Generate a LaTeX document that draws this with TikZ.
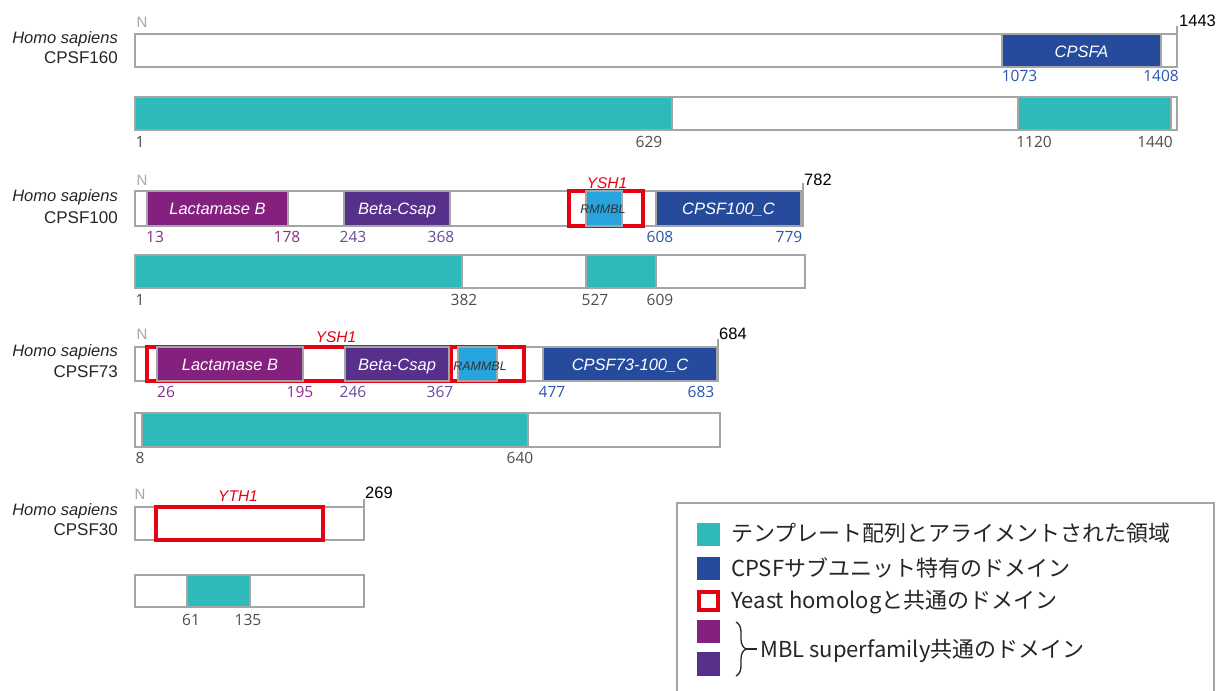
\documentclass[tikz,border=0pt]{standalone}
\usepackage{fontspec}
\setmainfont{Liberation Sans}
\newfontfamily\numfont{Open Sans}
\newfontfamily\jpfont{Noto Sans CJK JP}
\usetikzlibrary{decorations.pathreplacing}
\definecolor{barg}{HTML}{A2A6A6}
\definecolor{cteal}{HTML}{2FBABA}
\definecolor{cblue}{HTML}{264B9D}
\definecolor{cpurp}{HTML}{84217F}
\definecolor{cdpurp}{HTML}{57308B}
\definecolor{clblue}{HTML}{27A4DD}
\definecolor{cred}{HTML}{E50012}
\definecolor{ngray}{HTML}{4D4D4D}
\definecolor{npurp}{HTML}{8B2C8C}
\definecolor{ndpurp}{HTML}{6A4A9E}
\definecolor{nblue}{HTML}{2C54AE}
\definecolor{ngrey}{HTML}{A8A8A8}
\begin{document}
\begin{tikzpicture}[x=1pt,y=-1pt,
  pbar/.style={draw=barg,line width=2.6pt,fill=white},
  tick/.style={draw=barg,line width=2pt},
  seg/.style={draw=barg,line width=2.2pt},
  redbox/.style={draw=cred,line width=4pt},
  species/.style={anchor=base east,inner sep=0pt,font=\fontsize{16.5}{18}\selectfont\itshape,text=black!85},
  prot/.style={anchor=base east,inner sep=0pt,font=\fontsize{17}{18}\selectfont,text=black!85},
  dlab/.style={anchor=base,inner sep=0pt,font=\fontsize{16.5}{18}\selectfont\itshape,text=white},
  slab/.style={anchor=base,inner sep=0pt,font=\fontsize{12.5}{14}\selectfont\itshape,text=black!80},
  num/.style={inner sep=0pt,font=\numfont\fontsize{15.5}{17}\selectfont,text=ngray},
  endnum/.style={anchor=west,inner sep=0pt,font=\fontsize{16.5}{18}\selectfont,text=black},
  nterm/.style={inner sep=0pt,font=\fontsize{15}{16}\selectfont,text=ngrey},
  yl/.style={inner sep=0pt,font=\fontsize{15.5}{17}\selectfont\itshape,text=cred},
  leg/.style={anchor=base west,inner sep=0pt,font=\jpfont\fontsize{22}{24}\selectfont,text=black!85}
]
\useasboundingbox (0,0) rectangle (1216,691);
\fill[white] (0,0) rectangle (1216,691);

% ---------------- CPSF160 ----------------
\node[species] (sp1) at (118,43) {Homo sapiens};
\node[prot] (p1) at (118,63) {CPSF160};
\node[nterm] (n1) at (142,22) {N};
\draw[pbar] (135,34) rectangle (1177,67);
\draw[tick] (1177,34) -- (1177,26);
\node[endnum] (e1) at (1179,21) {1443};
\draw[seg,fill=cblue] (1002,34) rectangle (1161,67);
\node[dlab] (cpsfa) at (1081.5,57) {CPSFA};
\node[num,text=nblue] (a1073) at (1019.5,76) {1073};
\node[num,text=nblue] (a1408) at (1161,76) {1408};
\draw[pbar] (135,97) rectangle (1177,130);
\draw[seg,fill=cteal] (135,97) rectangle (672,130);
\draw[seg,fill=cteal] (1018,97) rectangle (1171,130);
\node[num] (t1a) at (140,142) {1};
\node[num] (t1b) at (649,142) {629};
\node[num] (t1c) at (1034,142) {1120};
\node[num] (t1d) at (1155,142) {1440};

% ---------------- CPSF100 ----------------
\node[species] (sp2) at (118,201) {Homo sapiens};
\node[prot] (p2) at (118,223) {CPSF100};
\node[nterm] (n2) at (142,180) {N};
\draw[pbar] (135,191) rectangle (803,226);
\draw[tick] (803,191) -- (803,183);
\node[endnum] (e2) at (804,180) {782};
\draw[redbox] (569,191) rectangle (643,226);
\draw[seg,fill=cpurp] (147,191) rectangle (288,226);
\node[dlab] (lac2) at (217.5,214.5) {Lactamase B};
\draw[seg,fill=cdpurp] (344,191) rectangle (450,226);
\node[dlab] (bet2) at (397,214.5) {Beta-Csap};
\draw[seg,fill=clblue] (586,191) rectangle (622,226);
\node[slab] (rm2) at (603,213) {RMMBL};
\draw[seg,fill=cblue] (656,191) rectangle (801,226);
\node[dlab] (c100) at (728.5,214.5) {CPSF100\_C};
\node[yl] (ysh2) at (607,183.5) {YSH1};
\node[num,text=npurp] (b13) at (155,237) {13};
\node[num,text=npurp] (b178) at (287,237) {178};
\node[num,text=ndpurp] (b243) at (353,237) {243};
\node[num,text=ndpurp] (b368) at (441,237) {368};
\node[num,text=nblue] (b608) at (660,237) {608};
\node[num,text=nblue] (b779) at (789,237) {779};
\draw[pbar] (135,255) rectangle (805,288);
\draw[seg,fill=cteal] (135,255) rectangle (462,288);
\draw[seg,fill=cteal] (586,255) rectangle (656,288);
\node[num] (t2a) at (140,300) {1};
\node[num] (t2b) at (464,300) {382};
\node[num] (t2c) at (595,300) {527};
\node[num] (t2d) at (660,300) {609};

% ---------------- CPSF73 ----------------
\node[species] (sp3) at (118,356) {Homo sapiens};
\node[prot] (p3) at (118,377) {CPSF73};
\node[nterm] (n3) at (142,334) {N};
\draw[pbar] (135,347) rectangle (718,381);
\draw[tick] (718,347) -- (718,339);
\node[endnum] (e3) at (719,334) {684};
\draw[redbox] (147,347) rectangle (524,381);
\draw[cred,line width=3pt] (451,347) -- (451,381);
\draw[seg,fill=cpurp] (157,347) rectangle (303,381);
\node[dlab] (lac3) at (230,370.5) {Lactamase B};
\draw[seg,fill=cdpurp] (345,347) rectangle (449,381);
\node[dlab] (bet3) at (397,370.5) {Beta-Csap};
\draw[seg,fill=clblue] (458,347) rectangle (497,381);
\node[slab] (rm3) at (480,370) {RAMMBL};
\draw[seg,fill=cblue] (543,347) rectangle (717,381);
\node[dlab] (c73) at (630,370.5) {CPSF73-100\_C};
\node[yl] (ysh3) at (336,337) {YSH1};
\node[num,text=npurp] (c26) at (166,392) {26};
\node[num,text=npurp] (c195) at (300,392) {195};
\node[num,text=ndpurp] (c246) at (353,392) {246};
\node[num,text=ndpurp] (c367) at (440,392) {367};
\node[num,text=nblue] (c477) at (552,392) {477};
\node[num,text=nblue] (c683) at (701,392) {683};
\draw[pbar] (135,413) rectangle (720,447);
\draw[seg,fill=cteal] (142,413) rectangle (528,447);
\node[num] (t3a) at (140,458) {8};
\node[num] (t3b) at (520,458) {640};

% ---------------- CPSF30 ----------------
\node[species] (sp4) at (118,515) {Homo sapiens};
\node[prot] (p4) at (118,535) {CPSF30};
\node[nterm] (n4) at (140,494) {N};
\draw[pbar] (135,507) rectangle (364,540);
\draw[tick] (364,507) -- (364,499);
\node[endnum] (e4) at (365,493) {269};
\draw[redbox] (156,507) rectangle (323,540);
\node[yl] (yth) at (238,496) {YTH1};
\draw[pbar] (135,575) rectangle (364,607);
\draw[seg,fill=cteal] (187,575) rectangle (250,607);
\node[num] (t4a) at (191,620) {61};
\node[num] (t4b) at (248,620) {135};

% ---------------- Legend ----------------
\draw[barg,line width=2pt] (677,503) rectangle (1214,700);
\fill[cteal] (697,523) rectangle (720,546);
\node[leg] (l1) at (731,541) {テンプレート配列とアライメントされた領域};
\fill[cblue] (697,557) rectangle (720,580);
\node[leg] (l2) at (731,576) {CPSFサブユニット特有のドメイン};
\draw[cred,line width=3.5pt] (699,592) rectangle (718,610);
\node[leg] (l3) at (731,608) {Yeast homologと共通のドメイン};
\fill[cpurp] (697,620) rectangle (720,643);
\fill[cdpurp] (697,652) rectangle (720,676);
\node[leg] (l4) at (760,657) {MBL superfamily共通のドメイン};
\coordinate (bt) at (736,622);
\coordinate (bb) at (736,676);
\draw[black!85,line width=1.3pt,decorate,decoration={brace,amplitude=10pt}] (bt) -- (bb);
\coordinate (btip) at (746,649);
\coordinate (bend) at (757,649);
\draw[black!85,line width=1.3pt] (btip) -- (bend);
\end{tikzpicture}
\end{document}
